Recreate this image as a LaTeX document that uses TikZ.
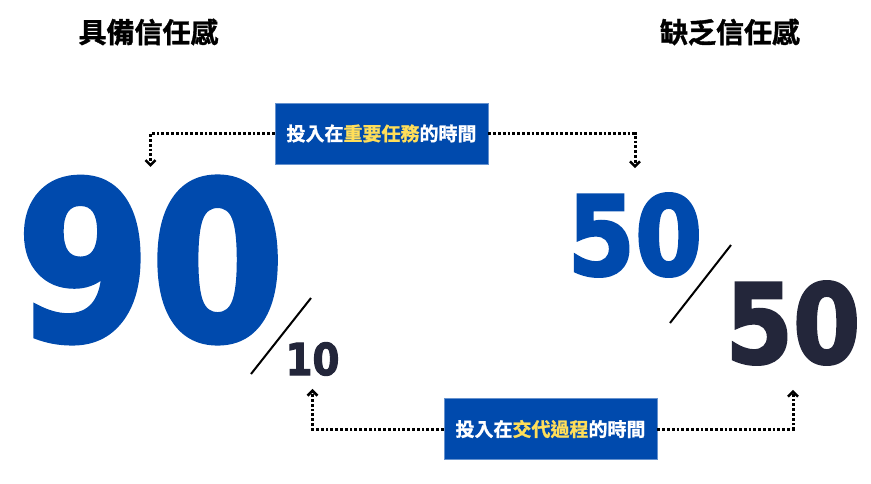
\documentclass[tikz,border=0pt]{standalone}
\usepackage{fontspec}
\usepackage{xcolor}
\usepackage{tikz}
\usetikzlibrary{arrows.meta, positioning}
\newfontfamily\cjkfont[FakeBold=1.2]{Noto Sans CJK TC Bold}
\newfontfamily\numfont[FakeBold=2.5]{DejaVu Sans Bold}
\definecolor{trustblue}{HTML}{004AAD}
\definecolor{trustnavy}{HTML}{23263A}
\definecolor{trustyellow}{HTML}{FFDE59}
\tikzset{
  heading/.style={inner sep=0pt, text=black, font=\cjkfont\fontsize{28}{28}\selectfont},
  timebox/.style={rectangle, minimum width=213pt, minimum height=61pt, inner sep=0pt, fill=trustblue, draw=trustblue!60, line width=0.8pt, text=white, font=\cjkfont\fontsize{19}{19}\selectfont},
  bignum/.style={inner sep=0pt, text=trustblue},
  smallnum/.style={inner sep=0pt, text=trustnavy},
  dotarrow/.style={-{Straight Barb[length=5pt, width=10pt, line width=2.6pt]}, line width=3pt, dash pattern=on 2.8pt off 2pt},
  slash/.style={line width=2pt},
}

\begin{document}
\begin{tikzpicture}[x=1pt, y=-1pt]
\useasboundingbox (0,0) rectangle (871,483);
\node (trustyes) [heading] at (148.5,32) {具備信任感};
\node (trustno) [heading] at (730,32) {缺乏信任感};
\node (n90) [bignum, xscale=0.88, font=\numfont\fontsize{219}{219}\selectfont] at (150.5,260) {90};
\node (n10) [smallnum, xscale=0.88, font=\numfont\fontsize{44}{44}\selectfont] at (312.5,359) {10};
\node (n50a) [bignum, xscale=0.88, font=\numfont\fontsize{110}{110}\selectfont] at (635,235) {50};
\node (n50b) [smallnum, xscale=0.88, font=\numfont\fontsize{110}{110}\selectfont] at (793,323) {50};
\node (topbox) [timebox] at (381.5,133.5) {投入在{\color{trustyellow}重要任務}的時間};
\node (botbox) [timebox] at (550.5,429) {投入在{\color{trustyellow}交代過程}的時間};
% slashes between the numbers
\coordinate (s1a) at (251,374);
\coordinate (s1b) at (311,298);
\coordinate (s2a) at (670,323);
\coordinate (s2b) at (731,245);
\draw[slash] (s1a) -- (s1b);
\draw[slash] (s2a) -- (s2b);
\draw[dotarrow, shorten >=10pt] (topbox.west) -| (n90.north);
\draw[dotarrow, shorten >=25pt] (topbox.east) -| (n50a.north);
\draw[dotarrow, shorten >=13pt] (botbox.west) -| (n10.south);
\draw[dotarrow, shorten >=25pt] (botbox.east) -| (n50b.south);
\end{tikzpicture}
\end{document}
